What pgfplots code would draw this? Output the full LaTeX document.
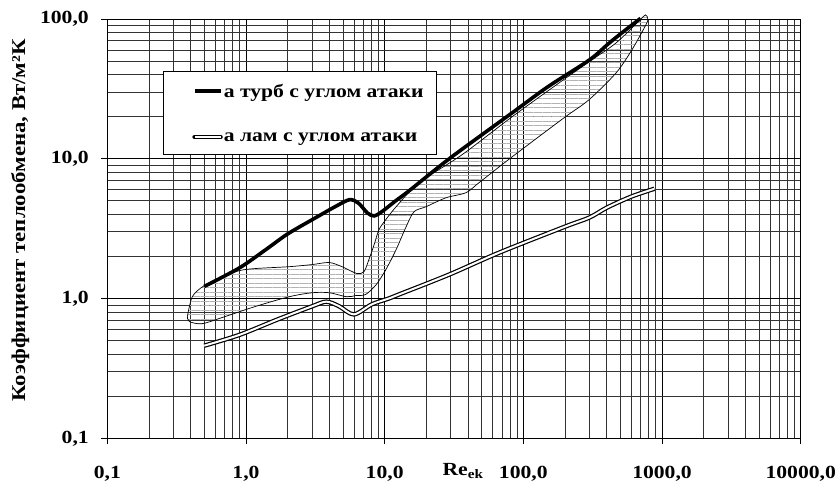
\documentclass[border=0pt]{standalone}
\usepackage{fontspec}
\setmainfont{Liberation Serif}[FakeStretch=1.17]
\usepackage{pgfplots}
\pgfplotsset{compat=1.18}
\usepackage{pgfplotstable}
\usetikzlibrary{patterns.meta}
\newcommand\myfont{\fontsize{18.5}{21}\selectfont\bfseries}

\pgfplotstableread{
x y
0.5 1.22
0.9 1.66
1.4 2.25
2.0 2.9
3.2 3.8
4.5 4.6
5.6 5.1
6.5 4.8
7.5 4.1
8.4 3.9
9.6 4.2
12 5.0
15 5.9
30 10.2
83 21.3
150 32.7
300 51
414 67
550 84
700 101
}\turb

\pgfplotstableread{
x y
0.5 0.46
0.9 0.55
1.7 0.71
3.0 0.88
3.8 0.95
4.7 0.88
6.0 0.77
8.1 0.91
10.7 1.0
12.7 1.07
29 1.48
67 2.13
200 3.27
300 3.8
400 4.47
600 5.36
880 6.1
}\lam

\pgfplotstableread{
x y
0.378 0.743
0.41 1.03
0.49 1.22
0.64 1.39
0.89 1.58
1.18 1.64
2.05 1.69
3.0 1.75
3.98 1.81
4.93 1.69
6.3 1.51
7.1 1.56
7.7 1.90
8.4 2.43
9.1 3.11
10.2 3.67
12.1 4.54
17.7 6.74
36.2 10.7
82.8 19.95
181 34.9
297 49.3
466 67.4
682 96.8
760 107
790 100
764 90.6
606 60.1
466 41.1
297 26.4
196 19.6
82.8 10.3
47.9 6.74
38.6 5.72
27.7 5.26
19.9 4.54
16.3 4.18
14.3 3.27
12.1 2.24
10.2 1.61
8.7 1.26
7.3 1.07
6.2 1.05
5.3 1.03
4.0 1.10
3.0 1.10
2.05 1.03
1.18 0.88
0.67 0.73
0.48 0.66
0.39 0.685
0.378 0.743
}\loop

\begin{document}
\begin{tikzpicture}
\useasboundingbox (-107.3pt,-42.7pt) rectangle (732.7pt,438.3pt);
\begin{axis}[
  scale only axis, width=693.4pt, height=419.3pt,
  at={(0pt,0pt)}, anchor=south west,
  xmode=log, ymode=log,
  xmin=0.1, xmax=10000, ymin=0.1, ymax=100,
  xtick={0.1,1,10,100,1000,10000},
  xticklabels={{0,1},{1,0},{10,0},{100,0},{1000,0},{10000,0}},
  ytick={0.1,1,10,100},
  yticklabels={{0,1},{1,0},{10,0},{100,0}},
  grid=both,
  major grid style={black, line width=0.8pt},
  minor grid style={black!80, line width=0.7pt},
  axis line style={black, line width=0.8pt},
  tick align=outside, tick pos=left,
  major tick length=6pt, minor tick length=0pt,
  tick style={black, line width=0.8pt},
  ticklabel style={font=\myfont},
  xticklabel style={anchor=base, yshift=-34pt},
  yticklabel style={xshift=-9pt},
  xlabel={Re\textsubscript{ek}},
  ylabel={Коэффициент теплообмена, Вт/м²К},
  every axis x label/.style={at={(axis description cs:0.513,0)}, anchor=base, yshift=-37.5pt, font=\myfont},
  every axis y label/.style={at={(axis description cs:-0.1255,0.52)}, rotate=90, anchor=center, font=\fontsize{19.5}{22}\selectfont\bfseries},
  clip=false,
  legend style={at={(0.0803,0.876)}, anchor=north west, draw=black, line width=0.8pt, fill=white,
    font=\myfont, inner xsep=12pt, inner ysep=13pt, row sep=35pt,
    /tikz/column sep=0pt, nodes={inner xsep=1pt, inner ysep=0pt, text depth=0pt}},
  legend cell align=left,
]
\addplot[forget plot, black, line width=0.7pt, smooth, tension=0.5,
  pattern={Lines[angle=0,distance=4.5pt,line width=0.7pt]}, pattern color=black!30] table {\loop};
\addplot[black, line width=3.6pt, smooth, tension=0.5,
  legend image code/.code={\path (-17pt,0pt); \draw[black, line width=3.6pt] (0pt,0pt) -- (26pt,0pt);}] table {\turb};
\addlegendentry{а турб с углом атаки}
\addplot[black, line width=4.4pt, smooth, tension=0.5,
  legend image code/.code={\path (-17pt,0pt); \draw[black, line width=4.4pt, line cap=round] (0pt,0pt) -- (26pt,0pt); \draw[white, line width=2pt] (0pt,0pt) -- (26pt,0pt);}] table {\lam};
\addlegendentry{а лам с углом атаки}
\addplot[forget plot, white, line width=2pt, smooth, tension=0.5] table {\lam};
\end{axis}
\end{tikzpicture}
\end{document}
